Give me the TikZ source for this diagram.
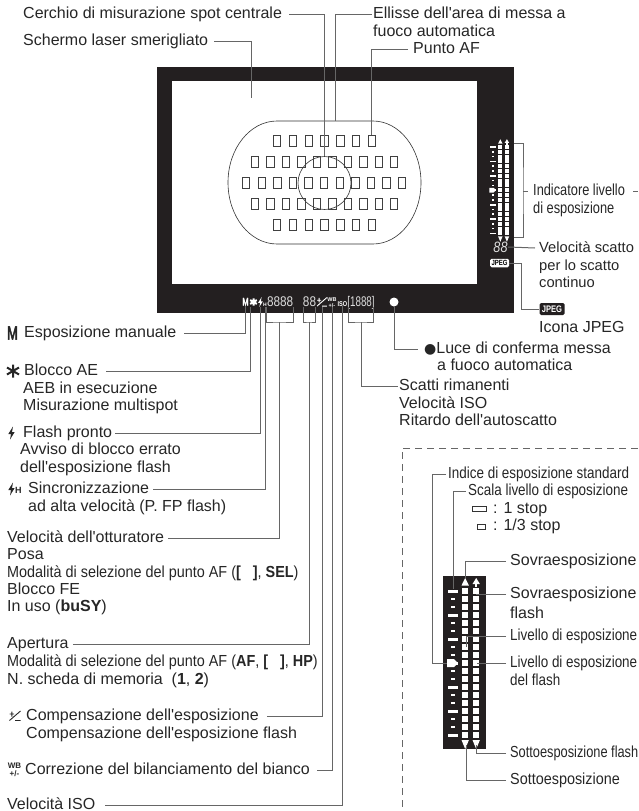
\documentclass[tikz,border=0pt]{standalone}
\usepackage{fontspec}
\usepackage{tikz}
\setmainfont{Liberation Sans}
\newfontfamily\modfont[FakeStretch=0.9]{Liberation Sans}
\newfontfamily\narrowfont[FakeStretch=0.84]{Liberation Sans}
\newfontfamily\narrowerfont[FakeStretch=0.8]{Liberation Sans}
\newfontfamily\countfont[FakeStretch=0.7]{Liberation Sans}
\newfontfamily\iconfont[FakeStretch=0.68,FakeBold=2.5]{Liberation Sans}
\newfontfamily\symfont{DejaVu Sans}
\definecolor{frameblack}{HTML}{231F20}
\definecolor{leadgray}{HTML}{666666}
\definecolor{lcdgray}{HTML}{DDDDDD}
\tikzset{
  lbl/.style={anchor=west, inner sep=0pt, text height=11.5pt, text depth=3.2pt, text=black!85, font=\fontsize{16}{18}\selectfont},
  lblmod/.style={lbl, font=\modfont\fontsize{16}{18}\selectfont},
  lblnarrow/.style={lbl, font=\narrowfont\fontsize{16}{18}\selectfont},
  lblnarrower/.style={lbl, font=\narrowerfont\fontsize{16}{18}\selectfont},
  lblsmall/.style={lbl, font=\fontsize{14.7}{18}\selectfont},
  lead/.style={draw=leadgray, line width=1pt},
  afline/.style={draw=black!80, line width=.6pt},
  afpt/.style={draw=black!75, line width=.7pt, minimum width=7.5pt, minimum height=11pt, inner sep=0pt},
  lcd/.style={inner sep=0pt, text=white, text height=7pt, text depth=0pt, anchor=center},
  lcdnum/.style={lcd, text=lcdgray, text height=9pt, font=\narrowfont\fontsize{14}{14}\selectfont},
  iconblack/.style={inner sep=0pt, text=black!85, anchor=center},
  comp icon/.pic={
    \draw[line width=.9pt, pic actions] (-5.5,-2) -- (-1,-2) (-3.2,-4.5) -- (-3.2,.5) (5.5,-5) -- (-5.5,4.5) (0,4.5) -- (5.5,4.5);
  },
  bolt icon/.pic={
    \fill[pic actions] (1.5,-6.5) -- (-3.2,1) -- (-.5,1) -- (-1.5,6.5) -- (3.2,-1) -- (.5,-1) -- cycle;
  },
  star icon/.pic={
    \draw[line width=2pt, pic actions] (0,-6.5) -- (0,6.5) (-6,-3.5) -- (6,3.5) (-6,3.5) -- (6,-3.5);
  },
  exp scale/.pic={
    \foreach \n in {0,3,...,18} \fill[white] (-4.8,{8*\n-1.5}) rectangle (4.8,{8*\n+1.5});
    \foreach \n in {1,2,4,5,7,8,10,11,13,14,16,17} \fill[white] (-2.3,{8*\n-1.2}) rectangle (2.3,{8*\n+1.2});
    \fill[white] (-6,68) -- (1,68) -- (5,72) -- (1,76) -- (-6,76) -- cycle;
    \foreach \n in {0,...,18} {
      \fill[white] (9,{8*\n-3.2}) rectangle (15.4,{8*\n+3.2});
      \fill[white] (20,{8*\n-3.2}) rectangle (26.4,{8*\n+3.2});
    }
    \fill[white] (12.2,-13) -- (8.5,-5.5) -- (15.9,-5.5) -- cycle;
    \fill[white] (23.2,-13) -- (19.5,-7) -- (26.9,-7) -- cycle;
    \fill[white] (22.2,-7.5) rectangle (24.2,-4);
    \fill[white] (12.2,158) -- (8.5,149) -- (15.9,149) -- cycle;
    \fill[white] (23.2,158) -- (19.5,149) -- (26.9,149) -- cycle;
  }
}
\begin{document}
\begin{tikzpicture}[x=1pt, y=-1pt]
      \useasboundingbox (0,0) rectangle (638,811);

      \node[fill=frameblack, minimum width=357pt, minimum height=246pt, inner sep=0pt] (frame) at (335.5,190) {};
      \node[fill=white, minimum width=305pt, minimum height=203pt, inner sep=0pt] (screen) at (324.5,182.5) {};

      \draw[afline] (277,121) -- (373,121) arc[start angle=-90, end angle=90, x radius=48, y radius=61.5]
        -- (277,244) arc[start angle=90, end angle=270, x radius=49, y radius=61.5] -- cycle;
      \node[afline, circle, minimum size=53pt, inner sep=0pt] (spot) at (324.5,183) {};
      \foreach \c in {0,...,6} {
        \node[afpt] (af-1-\c) at ({277+15.8*\c},141) {};
        \node[afpt] (af-5-\c) at ({277+15.8*\c},225) {};
      }
      \foreach \c in {0,...,9} {
        \node[afpt] (af-2-\c) at ({255+15.45*\c},162) {};
        \node[afpt] (af-4-\c) at ({255+15.45*\c},204) {};
      }
      \foreach \c in {0,...,10} \node[afpt] (af-3-\c) at ({246+15.6*\c},183) {};

      \pic[scale=.6] at (493,147) {exp scale};
      \node[lcdnum, text height=11pt, minimum width=15pt, font=\narrowfont\itshape\fontsize{15}{15}\selectfont] (lcdrate) at (500.5,247) {88};
      \node[fill=white, rounded corners=1.5pt, inner sep=0pt, minimum width=19pt, minimum height=8.5pt, font=\narrowerfont\bfseries\fontsize{7.5}{8}\selectfont] (lcdjpeg) at (499.5,263) {JPEG};

      \node[lcd, minimum width=5pt, font=\iconfont\fontsize{11}{11}\selectfont] (lcdm) at (245.5,302) {M};
      \pic[white, scale=.55] at (253.5,302) {star icon};
      \coordinate (lcdstar) at (250.5,307);
      \pic[white, scale=.75] at (260.5,302) {bolt icon};
      \coordinate (lcdbolt) at (260,307);
      \node[lcd, minimum width=3pt, font=\bfseries\fontsize{5}{5}\selectfont] (lcdh) at (265,303) {H};
      \node[lcdnum] (lcdtv) at (280,302) {\makebox[26pt][l]{8888}};
      \node[lcdnum] (lcdav) at (309.5,302) {\makebox[12pt][c]{88}};
      \pic[white, scale=.9] at (322,302) {comp icon};
      \coordinate (lcdcomp) at (322,307);
      \node[lcd, font=\bfseries\fontsize{5.5}{5.5}\selectfont, text height=4pt] (lcdwb) at (332,299) {WB};
      \node[lcd, font=\bfseries\fontsize{5.5}{5.5}\selectfont, text height=4pt] (lcdwbpm) at (332,305) {+/-};
      \node[lcd, font=\narrowerfont\bfseries\fontsize{7}{7}\selectfont] (lcdiso) at (342.5,302.5) {ISO};
      \node[lcdnum, font=\countfont\fontsize{14}{14}\selectfont] (lcdcount) at (361,302) {\makebox[24pt][c]{[1888]}};
      \node[fill=white, circle, minimum size=9pt, inner sep=0pt] (lcddot) at (394,302) {};

      \node[lbl] (cerchio) at (23,14) {Cerchio di misurazione spot centrale};
      \node[lbl] (schermo) at (23,41) {Schermo laser smerigliato};
      \node[lbl] (ellisse) at (373,14) {Ellisse dell\textquotesingle area di messa a};
      \node[lbl] (ellissea) at (373,32) {fuoco automatica};
      \node[lbl] (puntoaf) at (413,49) {Punto AF};
      \node[lblnarrower] (indicatore) at (533,191) {Indicatore livello};
      \node[lblnarrower] (indicatorea) at (533,209) {di esposizione};
      \node[lblsmall] (scatto) at (539,248) {Velocità scatto};
      \node[lblsmall] (scattoa) at (539,266) {per lo scatto};
      \node[lblsmall] (scattob) at (539,283) {continuo};
      \node[fill=frameblack, rounded corners=1.5pt, text=white, inner sep=0pt, minimum width=25pt, minimum height=12pt, font=\narrowerfont\bfseries\fontsize{9.5}{10}\selectfont] (jpegicon) at (552,309) {JPEG};
      \node[lbl] (icona) at (539,328) {Icona JPEG};
      \node[lbl] (luce) at (424,349) {{\symfont\fontsize{14}{14}\selectfont ●}Luce di conferma messa};
      \node[lbl] (lucea) at (437,366) {a fuoco automatica};
      \node[lbl] (rimanenti) at (399,386) {Scatti rimanenti};
      \node[lbl] (rimanentia) at (399,404) {Velocità ISO};
      \node[lbl] (rimanentib) at (399,421) {Ritardo dell\textquotesingle autoscatto};

      \node[iconblack, font=\iconfont\fontsize{19}{19}\selectfont] (iconm) at (12.5,333) {M};
      \node[lbl] (manuale) at (24,333) {Esposizione manuale};
      \pic[black!85] at (13,371) {star icon};
      \node[lbl] (bloccoae) at (24,371) {Blocco AE};
      \node[lbl] (bloccoaea) at (23,389) {AEB in esecuzione};
      \node[lbl] (bloccoaeb) at (23,406) {Misurazione multispot};
      \pic[black!85] at (11.5,433) {bolt icon};
      \node[lbl] (pronto) at (23,433) {Flash pronto};
      \node[lbl] (prontoa) at (20,450) {Avviso di blocco errato};
      \node[lbl] (prontob) at (20,468) {dell\textquotesingle esposizione flash};
      \pic[black!85] at (11.5,489) {bolt icon};
      \node[iconblack, font=\bfseries\fontsize{9}{9}\selectfont] (iconh) at (18.5,490) {H};
      \node[lbl] (sincro) at (28,489) {Sincronizzazione};
      \node[lbl] (sincroa) at (28,507) {ad alta velocità (P. FP flash)};
      \node[lbl] (otturatore) at (7,538) {Velocità dell\textquotesingle otturatore};
      \node[lbl] (otturatorea) at (7,555) {Posa};
      \node[lblmod] (otturatoreb) at (7,573) {Modalità di selezione del punto AF (\textbf{[\ \ \ ]}, \textbf{SEL})};
      \node[lbl] (otturatorec) at (7,590) {Blocco FE};
      \node[lbl] (otturatored) at (7,607) {In uso (\textbf{buSY})};
      \node[lbl] (apertura) at (7,644) {Apertura};
      \node[lblmod] (aperturaa) at (7,662) {Modalità di selezione del punto AF (\textbf{AF}, \textbf{[\ \ \ ]}, \textbf{HP})};
      \node[lbl] (aperturab) at (7,680) {N. scheda di memoria\ \ (\textbf{1}, \textbf{2})};
      \pic[black!85] at (15,716) {comp icon};
      \node[lbl] (compens) at (26,716) {Compensazione dell\textquotesingle esposizione};
      \node[lbl] (compensa) at (26,734) {Compensazione dell\textquotesingle esposizione flash};
      \node[iconblack, font=\bfseries\fontsize{8}{8}\selectfont] (iconwb) at (14.5,766) {WB};
      \node[iconblack, font=\bfseries\fontsize{8}{8}\selectfont] (iconwbpm) at (14.5,774) {+/-};
      \node[lbl] (bianco) at (25,770) {Correzione del bilanciamento del bianco};
      \node[lbl] (isovel) at (7,805) {Velocità ISO};

      \coordinate (ellissetop) at (335,121);
      \coordinate (schermofoot) at (251,98);
      \coordinate (indtop) at (514,143);
      \coordinate (indbot) at (514,237);
      \coordinate (indmid) at (523,191);
      \coordinate (inddash) at (633,191);
      \coordinate (inddashend) at (638,191);
      \coordinate (jpegbend) at (521,309);
      \coordinate (brtv) at (279,322);
      \coordinate (brav) at (309,322);
      \coordinate (brcount) at (361,322);
      \coordinate (countbend) at (361,386);

      \draw[lead] ([xshift=7pt]cerchio.east) -| (spot.north);
      \draw[lead] ([xshift=6pt]schermo.east) -| (schermofoot);
      \draw[lead] ([xshift=-1pt]ellisse.west) -| (ellissetop);
      \draw[lead] ([xshift=-5pt]puntoaf.west) -| (af-1-6.north);
      \draw[lead] (indtop) -| (indmid) |- (indbot);
      \draw[lead] (indmid) -- ([xshift=-5pt]indicatore.west);
      \draw[lead] (inddash) -- (inddashend);
      \draw[lead] (lcdrate.east) -- ([xshift=-4pt]scatto.west);
      \draw[lead] (lcdjpeg.east) -| (jpegbend) -- (jpegicon.west);
      \draw[lead] (lcddot.south) |- ([xshift=-6pt]luce.west);
      \draw[lead] (lcdcount.south west) |- (brcount) -| (lcdcount.south east);
      \draw[lead] (brcount) -- (countbend) -- ([xshift=-1pt]rimanenti.west);

      \draw[lead] ([xshift=8pt]manuale.east) -| (lcdm.south);
      \draw[lead] ([xshift=8pt]bloccoae.east) -| (lcdstar);
      \draw[lead] ([xshift=3pt]pronto.east) -| (lcdbolt);
      \draw[lead] ([xshift=4pt]sincro.east) -| (lcdh.south);
      \draw[lead] (lcdtv.south west) |- (brtv) -| (lcdtv.south east);
      \draw[lead] ([xshift=4pt]otturatore.east) -| (brtv);
      \draw[lead] (lcdav.south west) |- (brav) -| (lcdav.south east);
      \draw[lead] ([xshift=4pt]apertura.east) -| (brav);
      \draw[lead] ([xshift=8pt]compens.east) -| (lcdcomp);
      \draw[lead] ([xshift=7pt]bianco.east) -| (lcdwbpm.south);
      \draw[lead] ([xshift=10pt]isovel.east) -| (lcdiso.south);

      \coordinate (dashstart) at (638,448);
      \coordinate (dashend) at (402,811);
      \draw[draw=leadgray, line width=.8pt, dash pattern=on 7pt off 5pt] (dashstart) -| (dashend);

      \node[fill=frameblack, minimum width=43pt, minimum height=173pt, inner sep=0pt] (inset) at (464.5,662.5) {};
      \pic at (453,591) {exp scale};

      \node[lblnarrow] (indice) at (448,474) {Indice di esposizione standard};
      \node[lblnarrow] (scala) at (468,491) {Scala livello di esposizione};
      \node[draw=black!80, line width=.7pt, minimum width=14pt, minimum height=5pt, inner sep=0pt] (onestop) at (479,509) {};
      \node[lbl] (onestoplbl) at (493,509) {: 1 stop};
      \node[draw=black!80, line width=.7pt, minimum width=8pt, minimum height=4.5pt, inner sep=0pt] (thirdstop) at (481.5,527) {};
      \node[lbl] (thirdstoplbl) at (493,526) {: 1/3 stop};
      \node[lbl] (sovra) at (510,561) {Sovraesposizione};
      \node[lbl] (sovraflash) at (510,594) {Sovraesposizione};
      \node[lbl] (sovraflasha) at (510,614) {flash};
      \node[lblnarrow] (livello) at (510,636) {Livello di esposizione};
      \node[lblnarrow] (livelloflash) at (510,663) {Livello di esposizione};
      \node[lblnarrow] (livelloflasha) at (510,681) {del flash};
      \node[lblnarrower] (sottoflash) at (510,753) {Sottoesposizione flash};
      \node[lblmod] (sotto) at (510,780) {Sottoesposizione};

      \coordinate (indicebend) at (432,663);
      \coordinate (indicefoot) at (447,663);
      \coordinate (scalafoot) at (453,589);
      \coordinate (sovrafoot) at (465,578);
      \coordinate (sovraflashfoot) at (476,594);
      \coordinate (livellofoot) at (466,647);
      \coordinate (livelloflashfoot) at (477,663);
      \coordinate (sottoflashfoot) at (476,745);
      \coordinate (sottofoot) at (466.5,745);

      \draw[lead] ([xshift=-2pt]indice.west) -| (indicebend) -- (indicefoot);
      \draw[lead] ([xshift=-2pt]scala.west) -| (scalafoot);
      \draw[lead] ([xshift=-4pt]sovra.west) -| (sovrafoot);
      \draw[lead] ([xshift=-4pt]sovraflash.west) -- (sovraflashfoot);
      \draw[lead] ([xshift=-4pt]livello.west) -| (livellofoot);
      \draw[lead] ([xshift=-4pt]livelloflash.west) -- (livelloflashfoot);
      \draw[lead] ([xshift=-4pt]sottoflash.west) -| (sottoflashfoot);
      \draw[lead] ([xshift=-4pt]sotto.west) -| (sottofoot);
    \end{tikzpicture}
\end{document}
